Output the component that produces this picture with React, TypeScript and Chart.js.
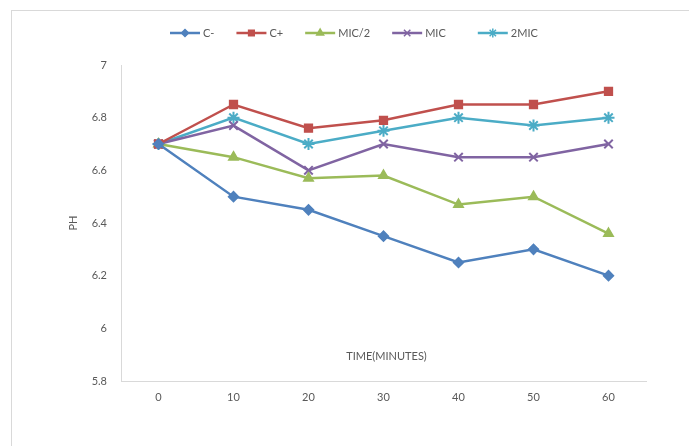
import React, { useEffect, useRef } from 'react';
import { Chart, registerables } from 'chart.js';
import { drawPoint } from 'chart.js/helpers';

Chart.register(...registerables);

const times = ['0', '10', '20', '30', '40', '50', '60'];
const seriesNames = ['C-', 'C+', 'MIC/2', 'MIC', '2MIC'];
const cMinus = [6.7, 6.5, 6.45, 6.35, 6.25, 6.3, 6.2];
const cPlus = [6.7, 6.85, 6.76, 6.79, 6.85, 6.85, 6.9];
const micHalf = [6.7, 6.65, 6.57, 6.58, 6.47, 6.5, 6.36];
const mic = [6.7, 6.77, 6.6, 6.7, 6.65, 6.65, 6.7];
const mic2 = [6.7, 6.8, 6.7, 6.75, 6.8, 6.77, 6.8];
const yMin = 5.8;
const yMax = 7;
const yStep = 0.2;
const xTitle = 'TIME(MINUTES)';
const yTitle = 'PH';

const colors = ['#4F81BD', '#C0504D', '#9BBB59', '#8064A2', '#4BACC6'];
const pointStyles = ['rectRot', 'rect', 'triangle', 'crossRot', 'star'];
const pointRadii = [5, 5.5, 5.5, 6, 6];
const pointBorders = [1.5, 1.5, 1.5, 2, 2];
const FONT = 'Lato, "Open Sans", sans-serif';
const TEXT = '#595959';

const overlay = {
  id: 'overlay',
  afterDraw(chart: any) {
    const ctx = chart.ctx as CanvasRenderingContext2D;
    const area = chart.chartArea;
    ctx.save();
    ctx.fillStyle = TEXT;
    ctx.font = `11px ${FONT}`;
    ctx.textAlign = 'center';
    ctx.textBaseline = 'middle';
    ctx.fillText(xTitle, (area.left + area.right) / 2 + 3, area.bottom - 25);
    ctx.save();
    ctx.translate(area.left - 48, (area.top + area.bottom) / 2);
    ctx.rotate(-Math.PI / 2);
    ctx.fillText(yTitle, 0, 0);
    ctx.restore();

    // legend
    const lineLen = 30;
    const gap = 22;
    const y = 33;
    ctx.font = `11px ${FONT}`;
    ctx.textAlign = 'left';
    let x = 170;
    chart.data.datasets.forEach((ds: any, i: number) => {
      ctx.strokeStyle = colors[i];
      ctx.lineWidth = 2.5;
      ctx.beginPath();
      ctx.moveTo(x, y);
      ctx.lineTo(x + lineLen, y);
      ctx.stroke();
      ctx.fillStyle = colors[i];
      ctx.lineWidth = 1.5;
      drawPoint(ctx, { pointStyle: pointStyles[i], radius: pointRadii[i] - 1.5, borderWidth: 1.5, rotation: 0 } as any, x + lineLen / 2, y);
      ctx.fillStyle = TEXT;
      ctx.fillText(ds.label, x + lineLen + 3, y);
      x += lineLen + 3 + ctx.measureText(ds.label).width + gap + (i === 3 ? 10 : 0);
    });
    ctx.restore();
  },
};

export default function App() {
  const ref = useRef<HTMLCanvasElement>(null);
  useEffect(() => {
    if (!ref.current) return;
    const seriesData = [cMinus, cPlus, micHalf, mic, mic2];
    const chart = new Chart(ref.current, {
      type: 'line',
      data: {
        labels: times,
        datasets: seriesNames.map((name, i) => ({
          label: name,
          data: seriesData[i],
          borderColor: colors[i],
          backgroundColor: colors[i],
          pointBackgroundColor: colors[i],
          pointBorderColor: colors[i],
          borderWidth: 2.5,
          pointStyle: pointStyles[i] as any,
          pointRadius: pointRadii[i],
          pointBorderWidth: pointBorders[i],
          tension: 0,
        })),
      },
      options: {
        animation: false,
        responsive: false,
        layout: { padding: { left: 0, top: 65, right: 43, bottom: 35 } },
        plugins: { legend: { display: false }, tooltip: { enabled: false } },
        scales: {
          x: {
            offset: true,
            grid: { display: true, color: 'transparent', drawTicks: false },
            border: { display: true, color: '#d9d9d9', width: 1 },
            ticks: { color: TEXT, font: { family: FONT, size: 11 }, padding: 10 },
            afterFit: (s: any) => { s.height = 30; },
          },
          y: {
            min: yMin,
            max: yMax,
            grid: { display: true, color: 'transparent', drawTicks: false },
            border: { display: true, color: '#d9d9d9', width: 1 },
            ticks: {
              stepSize: yStep,
              color: TEXT,
              font: { family: FONT, size: 11 },
              padding: 14,
              callback: (v: any) => String(Number(Number(v).toFixed(1))),
            },
            afterFit: (s: any) => { s.width = 121; },
          },
        },
      },
      plugins: [overlay],
    });
    return () => chart.destroy();
  }, []);
  return (
    <div style={{ position: 'fixed', left: 0, top: 0, width: 689, height: 446, background: '#fff', overflow: 'hidden' }}>
      <div style={{ position: 'absolute', left: 11, top: 10, width: 700, height: 460, borderLeft: '1px solid #d9d9d9', borderTop: '1px solid #d9d9d9' }} />
      <canvas ref={ref} width={689} height={446} style={{ position: 'absolute', left: 0, top: 0, width: 689, height: 446 }} />
    </div>
  );
}
